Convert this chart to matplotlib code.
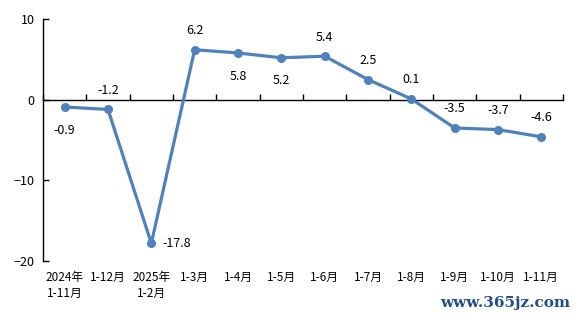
import numpy as np
import matplotlib
matplotlib.use('Agg')
import matplotlib.pyplot as plt

plt.rcParams['font.family'] = ['Noto Sans CJK SC', 'DejaVu Sans']

# data
labels = ['2024年\n1-11月', '1-12月', '2025年\n1-2月', '1-3月', '1-4月', '1-5月',
          '1-6月', '1-7月', '1-8月', '1-9月', '1-10月', '1-11月']
values = [-0.9, -1.2, -17.8, 6.2, 5.8, 5.2, 5.4, 2.5, 0.1, -3.5, -3.7, -4.6]
# where each value label sits relative to its point
label_pos = ['below', 'above', 'right', 'above', 'below', 'below',
             'above', 'above', 'above', 'above', 'above', 'above']

fig = plt.figure(figsize=(5.78, 3.18), dpi=100)
ax = fig.add_axes([0.0744, 0.179, 0.8996, 0.761])

x = np.arange(len(values))
ax.plot(x, values, color='#4F81BD', lw=2.3, marker='o', ms=5.5, zorder=3)

ax.set_xlim(-0.5, len(values) - 0.5)
ax.set_ylim(-20, 10)
ax.set_yticks([-20, -10, 0, 10])

for s in ['top', 'right']:
    ax.spines[s].set_visible(False)
ax.spines['bottom'].set_position(('data', 0))
ax.spines['bottom'].set_linewidth(1.0)
ax.spines['left'].set_linewidth(1.0)

ax.set_xticks(np.arange(len(values) + 1) - 0.5)
ax.set_xticklabels([])
ax.tick_params(axis='x', direction='in', length=4, width=1)
ax.tick_params(axis='y', direction='in', length=4, width=1, labelsize=9, pad=6)

for i, lab in enumerate(labels):
    ax.text(i, -0.04, lab, transform=ax.get_xaxis_transform(),
            ha='center', va='top', fontsize=8.5, linespacing=1.3)

for i, (v, p) in enumerate(zip(values, label_pos)):
    if p == 'above':
        off, ha, va = (0, 9), 'center', 'bottom'
    elif p == 'below':
        off, ha, va = (0, -12), 'center', 'top'
    else:
        off, ha, va = (8, 0), 'left', 'center'
    ax.annotate(f'{v}', (i, v), xytext=off, textcoords='offset points',
                ha=ha, va=va, fontsize=9)

fig.text(0.987, 0.025, 'www.365jz.com', ha='right', va='bottom',
         fontsize=11, color='#1F4E8C', family='serif', fontweight='bold')

fig.savefig('out.png', dpi=100)
